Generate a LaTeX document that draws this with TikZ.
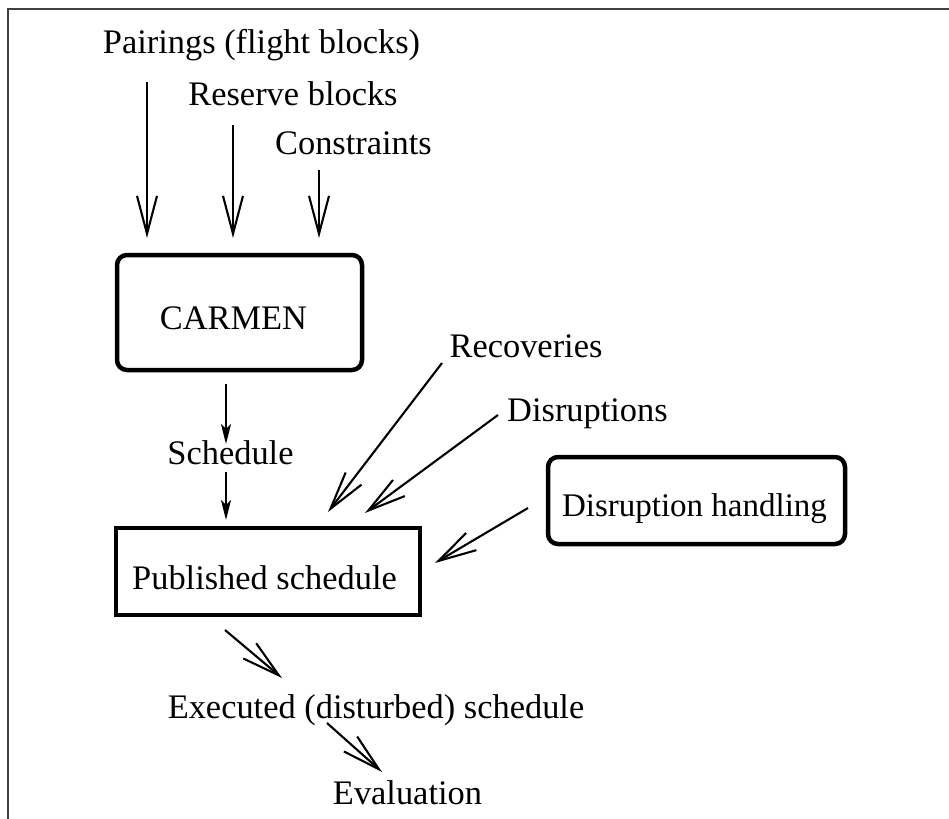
\documentclass[tikz,border=0pt]{standalone}
\usepackage{fontspec}
\setmainfont{Liberation Serif}
\usetikzlibrary{arrows.meta}
\begin{document}
\begin{tikzpicture}[x=1bp,y=-1bp,
  lbl/.style={anchor=base,inner sep=0pt,font=\fontsize{34.4bp}{40bp}\selectfont},
  vee/.style={line width=2.1bp,-{Straight Barb[length=38bp,width=20bp,line width=2.1bp]}},
  filled/.style={line width=2.2bp,-{Stealth[length=20bp,width=10bp,inset=5bp]}},
  rbox/.style={draw,line width=4.5bp,rounded corners=10bp},
  sbox/.style={draw,line width=4.5bp}]
\useasboundingbox (0,0) rectangle (949,819);
\draw[line width=1.5bp,black!75] (949,9) -- (8,9) -- (8,819);
% texts
\node[lbl] (pair) at (261.5,54) {Pairings (flight blocks)};
\node[lbl] (res) at (293,105) {Reserve blocks};
\node[lbl] (cons) at (353.5,154) {Constraints};
\node[lbl] (sched) at (230.5,464) {Schedule};
\node[lbl] (rec) at (526,357) {Recoveries};
\node[lbl] (dis) at (587.5,421) {Disruptions};
\node[lbl] (exe) at (376,718) {Executed (disturbed) schedule};
\node[lbl] (eval) at (407.5,804) {Evaluation};
% boxes
\draw[rbox] (117,255) rectangle (362,370);
\node[lbl] (carmen) at (233.5,329) {CARMEN};
\draw[sbox] (116,528) rectangle (420,615);
\node[lbl] (pub) at (264.5,589) {Published schedule};
\draw[rbox] (548,457) rectangle (845,544);
\node[lbl,font=\fontsize{33bp}{40bp}\selectfont] (dh) at (694.5,516) {Disruption handling};
% arrow endpoints
\coordinate (a1s) at (147,82);  \coordinate (a1e) at (147,238);
\coordinate (a2s) at (233,125); \coordinate (a2e) at (233,238);
\coordinate (a3s) at (319,170); \coordinate (a3e) at (319,238);
\coordinate (s1s) at (226,384); \coordinate (s1e) at (226,444);
\coordinate (s2s) at (226,472); \coordinate (s2e) at (226,520);
\coordinate (rs) at (442,363); \coordinate (re) at (328,512);
\coordinate (ds) at (498,415); \coordinate (de) at (365,513);
\coordinate (hs) at (528,508); \coordinate (he) at (435,563);
\coordinate (es) at (225,630); \coordinate (ee) at (282,678);
\coordinate (vs) at (327,723); \coordinate (ve) at (382,772);
\draw[vee] (a1s) -- (a1e);
\draw[vee] (a2s) -- (a2e);
\draw[vee] (a3s) -- (a3e);
\draw[filled] (s1s) -- (s1e);
\draw[filled] (s2s) -- (s2e);
\draw[vee] (rs) -- (re);
\draw[vee] (ds) -- (de);
\draw[vee] (hs) -- (he);
\draw[vee] (es) -- (ee);
\draw[vee] (vs) -- (ve);
\end{tikzpicture}
\end{document}
